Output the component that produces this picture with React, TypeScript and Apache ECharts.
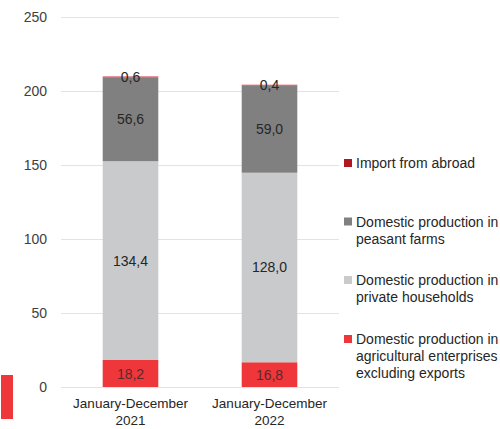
import React, { useEffect, useRef } from "react";
import * as echarts from "echarts";

const categories = ["January-December\n2021", "January-December\n2022"];
const agricultural = [18.2, 16.8];
const households = [134.4, 128.0];
const peasant = [56.6, 59.0];
const importAbroad = [0.6, 0.4];
const yTicks = [0, 50, 100, 150, 200, 250];

const legendItems = [
  { name: "Import from abroad", color: "#B0171F", y: 154.5 },
  { name: "Domestic production in\npeasant farms", color: "#808080", y: 213 },
  { name: "Domestic production in\nprivate households", color: "#C9CACC", y: 271.5 },
  {
    name: "Domestic production in\nagricultural enterprises\nexcluding exports",
    color: "#EE363B",
    y: 330.5,
  },
];

const FONT = "'Liberation Sans', Arial, sans-serif";
const fmt = (p: any) => Number(p.value).toFixed(1).replace(".", ",");

export default function App() {
  const ref = useRef<HTMLDivElement>(null);
  useEffect(() => {
    if (!ref.current) return;
    const chart = echarts.init(ref.current, undefined, { renderer: "svg" });
    const label = {
      show: true,
      position: "inside",
      formatter: fmt,
      color: "#262626",
      fontSize: 14,
      fontFamily: FONT,
    };
    const mk = (name: string, data: number[], color: string, extra: any = {}) => ({
      name,
      type: "bar",
      stack: "total",
      data,
      barWidth: "40%",
      itemStyle: { color },
      label: { ...label, ...extra },
      emphasis: { disabled: true },
    });
    chart.setOption({
      animation: false,
      grid: { left: 61, right: 161, top: 17, bottom: 41 },
      xAxis: {
        type: "category",
        data: categories,
        axisLine: { show: false },
        axisTick: { show: false },
        axisLabel: {
          interval: 0,
          color: "#262626",
          fontSize: 13.5,
          fontFamily: FONT,
          lineHeight: 17,
          margin: 8,
        },
      },
      yAxis: {
        type: "value",
        min: yTicks[0],
        max: yTicks[yTicks.length - 1],
        interval: 50,
        axisLine: { show: false },
        axisTick: { show: false },
        splitLine: { lineStyle: { color: "#E3E3E3", width: 1 } },
        axisLabel: { color: "#404040", fontSize: 14, fontFamily: FONT, margin: 14 },
      },
      series: [
        mk("Domestic production in agricultural enterprises excluding exports", agricultural, "#EE363B", { color: "#5a2a2a" }),
        mk("Domestic production in private households", households, "#C9CACC"),
        mk("Domestic production in peasant farms", peasant, "#808080"),
        mk("Import from abroad", importAbroad, "#D0313A"),
      ],
      graphic: [
        {
          type: "rect",
          shape: { x: 1, y: 375, width: 12, height: 44 },
          style: { fill: "#EE363B" },
        },
        ...legendItems.flatMap((it) => [
          {
            type: "rect",
            shape: { x: 344, y: it.y + 4.5, width: 8, height: 8 },
            style: { fill: it.color },
          },
          {
            type: "text",
            x: 356,
            y: it.y,
            style: {
              text: it.name,
              fill: "#262626",
              font: `14px ${FONT}`,
              lineHeight: 17,
              textVerticalAlign: "top",
            },
          },
        ]),
      ],
    });
    return () => chart.dispose();
  }, []);
  return (
    <div
      ref={ref}
      style={{ position: "absolute", left: 0, top: 0, width: 500, height: 429 }}
    />
  );
}
